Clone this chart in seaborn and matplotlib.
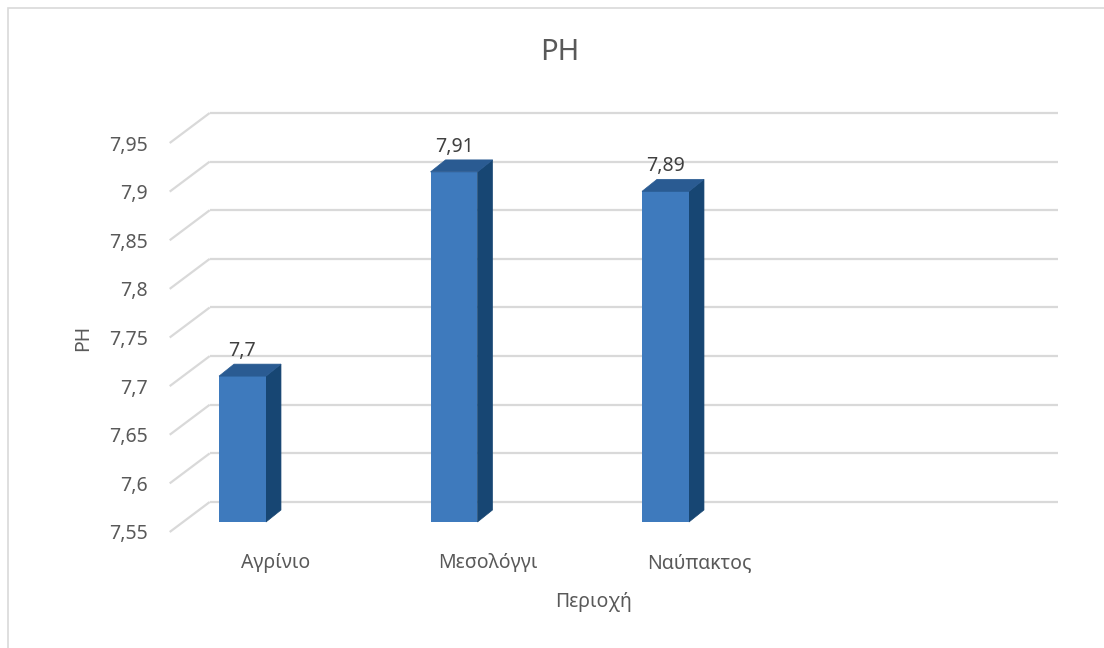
import matplotlib
matplotlib.use("Agg")
import matplotlib.pyplot as plt
from matplotlib.patches import Polygon, Rectangle
from matplotlib.transforms import ScaledTranslation
import seaborn as sns
import pandas as pd

# Data
categories = ["Αγρίνιο", "Μεσολόγγι", "Ναύπακτος", ""]
ph_values = [7.70, 7.91, 7.89, None]
value_labels = ["7,7", "7,91", "7,89"]
y_ticks = [7.55, 7.60, 7.65, 7.70, 7.75, 7.80, 7.85, 7.90, 7.95]
y_tick_labels = ["7,55", "7,6", "7,65", "7,7", "7,75", "7,8", "7,85", "7,9", "7,95"]

sns.set_theme(style="white")
plt.rcParams["font.family"] = ["Noto Sans", "DejaVu Sans"]

TEXT = "#595959"
GRID = "#d9d9d9"
FRONT = "#3e7abd"
SIDE = "#174673"
TOP = "#2a5b92"

W, H, DPI = 1104, 648, 100
fig = plt.figure(figsize=(W / DPI, H / DPI), dpi=DPI)

# Axes = the plane that holds the front faces of the bars (pixel geometry)
ax_left, ax_right, ax_bottom, ax_top = 183, 1031, 522, 133
ax = fig.add_axes([ax_left / W, 1 - ax_bottom / H,
                   (ax_right - ax_left) / W, (ax_bottom - ax_top) / H])

df = pd.DataFrame({"Περιοχή": categories, "PH": ph_values})
bar_w = 0.222
sns.barplot(data=df, x="Περιοχή", y="PH", order=categories, color=FRONT,
            width=bar_w, saturation=1, linewidth=0, edgecolor=FRONT,
            ax=ax, zorder=3)

px_per_x = 211.5
px_per_y = 48.6 / 0.05
x0 = -(242.5 - ax_left) / px_per_x
x1 = x0 + (ax_right - ax_left) / px_per_x
ymin, ymax = 7.55, 7.95
ax.set_xlim(x0, x1)
ax.set_ylim(ymin, ymax)

def dx(p):
    return p / px_per_x

def dy(p):
    return p / px_per_y

# wall offsets relative to the bar plane
fx, fy = dx(-13.3), dy(-10)
bx, by = dx(26.7), dy(20)

# gridlines: diagonal on the floor-left edge plus back-wall line
for v in y_ticks:
    ax.plot([x0 + fx, x0 + bx], [v + fy, v + by], color=GRID, lw=1.6,
            clip_on=False, zorder=1, solid_capstyle="butt")
    ax.plot([x0 + bx, x1 + bx], [v + by, v + by], color=GRID, lw=1.6,
            clip_on=False, zorder=1, solid_capstyle="butt")

# 3D side and top faces of each bar
ddx, ddy = dx(15), dy(12)
for i, v in enumerate(ph_values):
    if v is None:
        continue
    l, r = i - bar_w / 2, i + bar_w / 2
    side = Polygon([(r, ymin), (r, v), (r + ddx, v + ddy), (r + ddx, ymin + ddy)],
                   closed=True, facecolor=SIDE, edgecolor=SIDE, lw=0.5,
                   clip_on=False, zorder=2.5)
    top = Polygon([(l, v), (r, v), (r + ddx, v + ddy), (l + ddx, v + ddy)],
                  closed=True, facecolor=TOP, edgecolor=TOP, lw=0.5,
                  clip_on=False, zorder=3.5)
    ax.add_patch(side)
    ax.add_patch(top)
    ax.annotate(value_labels[i], xy=(i, v), xytext=(0, 20 * 72 / DPI),
                textcoords="offset points", ha="center", va="baseline",
                fontsize=14, color="#404040", zorder=5)

# axes styling
for s in ax.spines.values():
    s.set_visible(False)
ax.set_facecolor("none")
ax.grid(False)
ax.tick_params(axis="both", length=0)

ax.set_yticks(y_ticks)
ax.set_yticklabels(y_tick_labels, fontsize=14, color=TEXT)
ax.tick_params(axis="y", pad=15.5)
shift_y = ScaledTranslation(-13.3 / DPI, -10 / DPI, fig.dpi_scale_trans)
for lab in ax.get_yticklabels():
    lab.set_transform(lab.get_transform() + shift_y)

ax.set_xticks(range(len(categories)))
ax.set_xticklabels(categories, fontsize=14, color=TEXT)
ax.tick_params(axis="x", pad=15)
shift_x = ScaledTranslation(33.5 / DPI, -10 / DPI, fig.dpi_scale_trans)
for lab in ax.get_xticklabels():
    lab.set_transform(lab.get_transform() + shift_x)

ax.set_xlabel("")
ax.set_ylabel("")
fig.text(594 / W, 1 - 602 / H, "Περιοχή", ha="center", va="center",
         fontsize=14, color=TEXT)
fig.text(83 / W, 1 - 338 / H, "PH", ha="center", va="center", rotation=90,
         fontsize=14, color=TEXT)
fig.text(560 / W, 1 - 52 / H, "PH", ha="center", va="center",
         fontsize=21, color=TEXT)

# chart area border
fig.patches.append(Rectangle((7.5 / W, -0.1), 1.2, (1 - 8.5 / H) + 0.1,
                             transform=fig.transFigure, fill=False,
                             edgecolor="#d9d9d9", lw=1.2))

fig.savefig("out.png", dpi=DPI, facecolor="white")
